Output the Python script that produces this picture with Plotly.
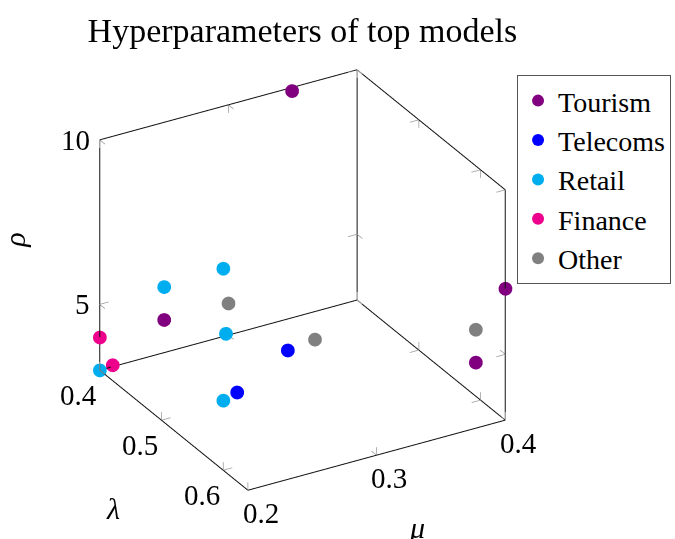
import plotly.graph_objects as go

# ---- data (lambda, mu, rho) per sector ----
categories = ["Tourism", "Telecoms", "Retail", "Finance", "Other"]
colors = ["#800080", "#0000FF", "#00AEEF", "#EC008C", "#808080"]

tourism_lam = [0.405, 0.64, 0.64, 0.40]
tourism_mu = [0.347, 0.40, 0.377, 0.25]
tourism_rho = [10, 7, 5, 4]

telecoms_lam = [0.496, 0.489]
telecoms_mu = [0.30, 0.264]
telecoms_rho = [4, 3]

retail_lam = [0.50, 0.40, 0.50, 0.50, 0.40]
retail_mu = [0.248, 0.25, 0.25, 0.248, 0.20]
retail_rho = [7.1, 5, 5.1, 3.09, 3]

finance_lam = [0.40, 0.40]
finance_mu = [0.20, 0.21]
finance_rho = [4, 3.05]

other_lam = [0.50, 0.54, 0.64]
other_mu = [0.252, 0.30, 0.377]
other_rho = [6, 5, 6]

lam_ticks = [0.4, 0.5, 0.6]
mu_ticks = [0.2, 0.3, 0.4]
rho_ticks = [5, 10]

series = [
    (tourism_lam, tourism_mu, tourism_rho),
    (telecoms_lam, telecoms_mu, telecoms_rho),
    (retail_lam, retail_mu, retail_rho),
    (finance_lam, finance_mu, finance_rho),
    (other_lam, other_mu, other_rho),
]

all_lam = sum([s[0] for s in series], [])
all_mu = sum([s[1] for s in series], [])
all_rho = sum([s[2] for s in series], [])
L0, L1 = min(all_lam), max(all_lam)
M0, M1 = min(all_mu), max(all_mu)
R0, R1 = min(all_rho), max(all_rho)

SERIF = "Liberation Serif"
fig = go.Figure()

# ---- box edges (back walls + front bottom edges), pgfplots style ----
edges = [
    ((L0, M1, R0), (L0, M1, R1)),
    ((L0, M0, R0), (L0, M0, R1)),
    ((L1, M1, R0), (L1, M1, R1)),
    ((L0, M1, R1), (L0, M0, R1)),
    ((L0, M1, R1), (L1, M1, R1)),
    ((L0, M1, R0), (L0, M0, R0)),
    ((L0, M1, R0), (L1, M1, R0)),
    ((L0, M0, R0), (L1, M0, R0)),
    ((L1, M0, R0), (L1, M1, R0)),
]
for a, b in edges:
    fig.add_trace(go.Scatter3d(x=[a[0], b[0]], y=[a[1], b[1]], z=[a[2], b[2]],
                               mode="lines", line=dict(color="#111111", width=2),
                               showlegend=False, hoverinfo="skip"))

# ---- tick marks on every drawn edge (inward, into both adjoining walls) ----
lo = [L0, M0, R0]
hi = [L1, M1, R1]
span = [hi[i] - lo[i] for i in range(3)]
tick_vals = [lam_ticks, mu_ticks, rho_ticks]
frac = 0.035
for a, b in edges:
    ax_i = [i for i in range(3) if a[i] != b[i]][0]
    others = [i for i in range(3) if i != ax_i]
    for v in tick_vals[ax_i]:
        if v < lo[ax_i] - 1e-9 or v > hi[ax_i] + 1e-9:
            continue
        p = list(a)
        p[ax_i] = v
        for o in others:
            d = 1 if abs(p[o] - lo[o]) < 1e-9 else -1
            q = list(p)
            q[o] = p[o] + d * frac * span[o]
            fig.add_trace(go.Scatter3d(x=[p[0], q[0]], y=[p[1], q[1]], z=[p[2], q[2]],
                                       mode="lines", line=dict(color="#9a9a9a", width=1.5),
                                       showlegend=False, hoverinfo="skip"))

# ---- data points ----
for name, col, (la, mu, rh) in zip(categories, colors, series):
    fig.add_trace(go.Scatter3d(x=la, y=mu, z=rh, mode="markers", name=name,
                               marker=dict(size=8, color=col, line=dict(width=0))))

# ---- tick labels and axis titles as scene annotations ----
ann = []
for v in rho_ticks:
    ann.append(dict(x=L0, y=M0, z=v, text=str(v), showarrow=False, xanchor="right",
                    xshift=-8, font=dict(family=SERIF, size=29, color="black")))
for v in lam_ticks:
    ann.append(dict(x=v, y=M0, z=R0, text=f"{v:.1f}", showarrow=False,
                    xshift=-21, yshift=-25, font=dict(family=SERIF, size=29, color="black")))
for v in mu_ticks:
    ann.append(dict(x=L1, y=v, z=R0, text=f"{v:.1f}", showarrow=False,
                    xshift=13, yshift=-23, font=dict(family=SERIF, size=29, color="black")))
ann.append(dict(x=(L0 + L1) / 2, y=M0, z=R0, text="<i>λ</i>", showarrow=False,
                xshift=-61, yshift=-78, font=dict(family=SERIF, size=30, color="black")))
ann.append(dict(x=L1, y=(M0 + M1) / 2, z=R0, text="<i>μ</i>", showarrow=False,
                xshift=41, yshift=-72, font=dict(family=SERIF, size=30, color="black")))
ann.append(dict(x=L0, y=M0, z=(R0 + R1) / 2, text="<i>ρ</i>", showarrow=False, textangle=-90,
                xshift=-86, yshift=15, font=dict(family=SERIF, size=30, color="black")))

hidden = dict(visible=False, showgrid=False, zeroline=False, showbackground=False,
              showspikes=False)
pad = 1e-3
S = 1.143
fig.update_layout(
    width=675, height=539,
    margin=dict(l=0, r=0, t=0, b=0),
    paper_bgcolor="white",
    title=dict(text="Hyperparameters of top models", x=0.448, xanchor="center",
               y=0.945, yanchor="middle", font=dict(family=SERIF, size=34, color="black")),
    scene=dict(
        domain=dict(x=[0, 0.896], y=[0, 0.961]),
        xaxis=dict(range=[L0 - pad * (L1 - L0), L1 + pad * (L1 - L0)], **hidden),
        yaxis=dict(range=[M0 - pad * (M1 - M0), M1 + pad * (M1 - M0)], **hidden),
        zaxis=dict(range=[R0 - pad * (R1 - R0), R1 + pad * (R1 - R0)], **hidden),
        aspectmode="manual",
        aspectratio=dict(x=1.0 * S, y=1.007 * S, z=0.883 * S),
        camera=dict(eye=dict(x=0.764 * 1.66, y=-0.443 * 1.66, z=0.470 * 1.66),
                    up=dict(x=0, y=0, z=1), center=dict(x=0, y=0, z=0),
                    projection=dict(type="orthographic")),
        annotations=ann,
    ),
    legend=dict(x=0.766, y=0.861, xanchor="left", yanchor="top",
                bordercolor="#555555", borderwidth=1, bgcolor="white",
                font=dict(family=SERIF, size=28, color="black"),
                tracegroupgap=0, itemsizing="constant"),
)

fig.write_html("out.html")
